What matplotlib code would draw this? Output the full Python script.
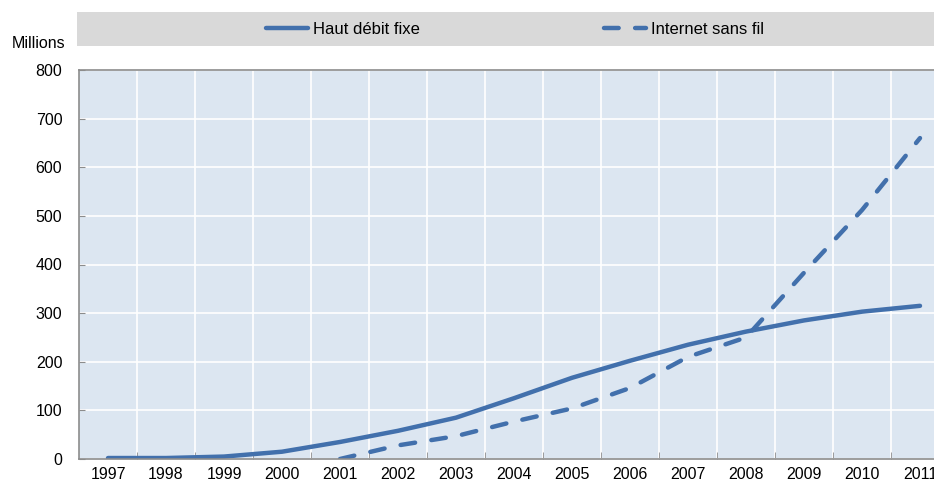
import matplotlib
matplotlib.use("Agg")
import matplotlib.pyplot as plt
from matplotlib.patches import Rectangle

years = [str(y) for y in range(1997, 2012)]
fixed_bb = [2, 2, 5, 15, 35, 58, 85, 125, 167, 202, 235, 262, 285, 303, 315]
wireless_years = years[4:]
wireless = [0, 28, 47, 77, 104, 146, 210, 250, 383, 512, 660]

LINE = "#4270AC"
BG = "#DCE6F1"
SPINE = "#8C8C8C"

plt.rcParams["font.family"] = ["Liberation Sans Narrow", "Liberation Sans", "DejaVu Sans"]

fig = plt.figure(figsize=(9.34, 4.87), dpi=100)
ax = fig.add_axes([79 / 934, 28 / 487, 1 - 79 / 934, 389 / 487])
ax.set_facecolor(BG)

x = list(range(len(years)))
xw = [years.index(y) for y in wireless_years]
l1, = ax.plot(x, fixed_bb, color=LINE, lw=3.2, solid_capstyle="round", label="Haut débit fixe")
l2, = ax.plot(xw, wireless, color=LINE, lw=3.2, ls=(0, (3.3, 3.7)), dash_capstyle="round",
              label="Internet sans fil")

ax.set_ylim(0, 800)
ax.set_xlim(-0.5, (934 - 108) / 58)
ax.set_yticks(range(0, 801, 100))
ax.set_xticks(x)
ax.set_xticklabels(years)
ax.set_xticks([i + 0.5 for i in x[:-1]], minor=True)

ax.grid(True, which="major", axis="y", color="white", lw=1.2)
ax.grid(True, which="minor", axis="x", color="white", lw=1.2)
ax.set_axisbelow(True)

ax.tick_params(axis="x", which="major", length=0, labelsize=11.5, pad=6)
ax.tick_params(axis="x", which="minor", direction="in", length=5, color=SPINE)
ax.tick_params(axis="y", direction="in", length=4, color=SPINE, labelsize=11.5, pad=12)

for side in ["left", "bottom", "top"]:
    ax.spines[side].set_color(SPINE)
    ax.spines[side].set_linewidth(1.2)
ax.spines["right"].set_visible(False)

fig.text(12 / 934, 1 - 44 / 487, "Millions", fontsize=11.5, va="center", ha="left")

fig.add_artist(Rectangle((77 / 934, 1 - 46 / 487), 1 - 77 / 934, 34 / 487,
                         transform=fig.transFigure, facecolor="#D9D9D9", edgecolor="none", zorder=0))
fig.legend(handles=[l1, l2], loc="center", bbox_to_anchor=(515 / 934, 1 - 29 / 487), ncol=2,
           frameon=False, fontsize=12, handlelength=2.5, handletextpad=0.3, columnspacing=11.1)

fig.savefig("out.png", dpi=100)
